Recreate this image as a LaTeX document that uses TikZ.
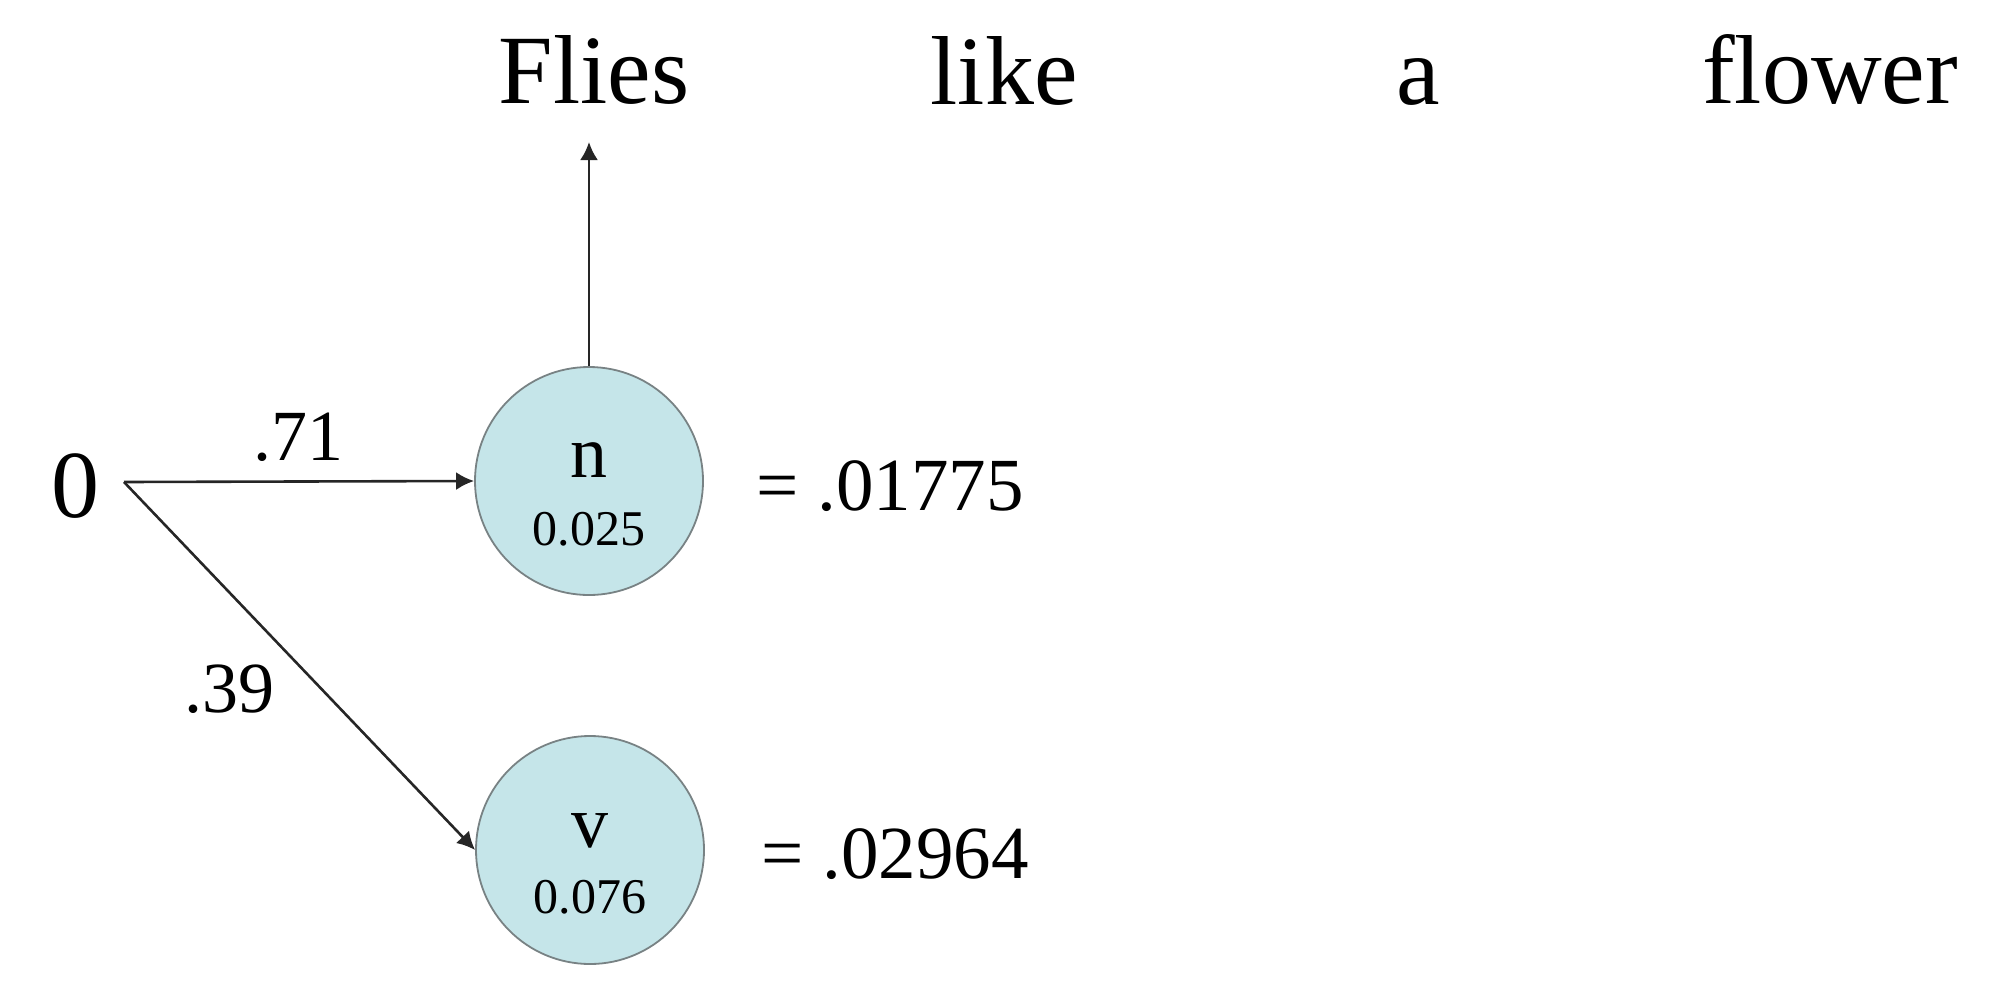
\documentclass[tikz,border=0pt]{standalone}
\usepackage{fontspec}
\setmainfont{Liberation Serif}
\usetikzlibrary{arrows.meta}
\definecolor{nodefill}{RGB}{197,229,233}
\definecolor{nodeline}{RGB}{120,130,132}
\newcommand{\fs}[1]{\fontsize{#1}{#1}\selectfont}
\tikzset{
  word/.style={inner sep=0pt, anchor=base, font=\fs{98}},
  num/.style={inner sep=0pt, anchor=base, font=\fs{72}},
  res/.style={inner sep=0pt, anchor=base west, font=\fs{75}},
  state/.style={circle, draw=nodeline, line width=1.8pt, fill=nodefill, minimum size=228pt, inner sep=0pt},
  statelab/.style={inner sep=0pt, anchor=base, font=\fs{74}},
  probtxt/.style={inner sep=0pt, anchor=base, font=\fs{50}},
  arr/.style={line width=2.6pt, draw=black!85, -{Latex[length=18pt,width=18pt]}}
}
\begin{document}
\begin{tikzpicture}[x=1pt,y=-1pt]
\useasboundingbox (0,0) rectangle (2000,996);
% words
\node[word] (w1) at (594,103) {Flies};
\node[word] (w2) at (1004,104) {like};
\node[word] (w3) at (1418,104) {a};
\node[word] (w4) at (1830,103) {flower};
% start
\node[inner sep=0pt, anchor=base, font=\fs{96}] (zero) at (75,517) {0};
\coordinate (s) at (124,482);
% states
\node[state] (n) at (589,481) {};
\node[statelab] (nl) at (589,477) {n};
\node[probtxt] (np) at (589,545) {0.025};
\node[state] (v) at (590,850) {};
\node[statelab] (vl) at (590,847) {v};
\node[probtxt] (vp) at (590,913) {0.076};
% edge labels
\node[num] (e1) at (298,460) {.71};
\node[num] (e2) at (229,712) {.39};
% results
\node[res] (r1) at (756,510) {= .01775};
\node[res] (r2) at (761,878) {= .02964};
% arrows
\coordinate (top) at (589,142);
\draw[arr] (s) -- (n.west);
\draw[arr] (s) -- (v.west);
\draw[arr] (n.north) -- (top);
\end{tikzpicture}
\end{document}
